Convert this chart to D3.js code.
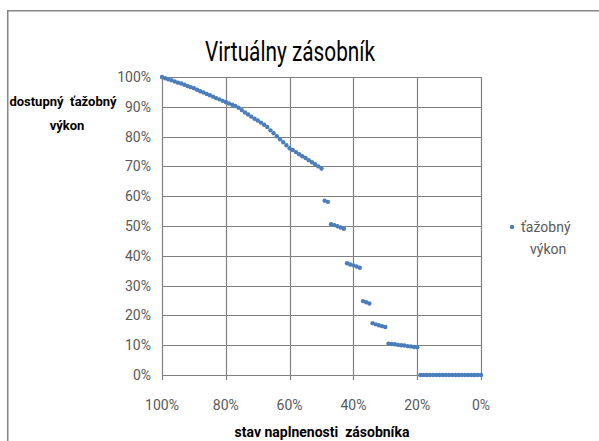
<!DOCTYPE html>
<html>
<head>
<meta charset="utf-8">
<script src="https://cdn.jsdelivr.net/npm/d3@7"></script>
<style>
  html, body { margin: 0; padding: 0; background: #fff; }
  svg { display: block; }
  text { font-family: Roboto, "Open Sans", sans-serif; }
</style>
</head>
<body>
<svg id="chart" width="599" height="441"></svg>
<script>
const title = "Virtuálny zásobník";
const yAxisTitle = ["dostupný  ťažobný", "výkon"];
const xAxisTitle = "stav naplnenosti  zásobníka";
const seriesName = ["ťažobný", "výkon"];

const xTickValues = [100, 80, 60, 40, 20, 0];
const xTickLabels = ["100%", "80%", "60%", "40%", "20%", "0%"];
const yTickValues = [100, 90, 80, 70, 60, 50, 40, 30, 20, 10, 0];
const yTickLabels = ["100%", "90%", "80%", "70%", "60%", "50%", "40%", "30%", "20%", "10%", "0%"];

// stav naplnenosti zásobníka (%)
const naplnenost = [100, 99, 98, 97, 96, 95, 94, 93, 92, 91,
  90, 89, 88, 87, 86, 85, 84, 83, 82, 81,
  80, 79, 78, 77, 76, 75, 74, 73, 72, 71,
  70, 69, 68, 67, 66, 65, 64, 63, 62, 61,
  60, 59, 58, 57, 56, 55, 54, 53, 52, 51,
  50, 49, 48, 47, 46, 45, 44, 43, 42, 41,
  40, 39, 38, 37, 36, 35, 34, 33, 32, 31,
  30, 29, 28, 27, 26, 25, 24, 23, 22, 21,
  20, 19, 18, 17, 16, 15, 14, 13, 12, 11,
  10, 9, 8, 7, 6, 5, 4, 3, 2, 1, 0];

// ťažobný výkon (%)
const vykon = [100, 99.6, 99.2, 98.9, 98.5, 98.1, 97.8, 97.4, 97.0, 96.6,
  96.2, 95.7, 95.2, 94.8, 94.3, 93.9, 93.4, 92.9, 92.5, 92.0,
  91.6, 91.1, 90.7, 90.3, 89.7, 88.9, 88.1, 87.4, 86.7, 86.0,
  85.4, 84.7, 84.0, 83.2, 82.1, 81.1, 80.1, 79.1, 78.1, 77.1,
  76.1, 75.5, 74.8, 74.1, 73.4, 72.8, 72.1, 71.4, 70.7, 70.0,
  69.3, 58.5, 58.1, 50.6, 50.3, 49.9, 49.5, 49.1, 37.5, 37.1,
  36.8, 36.4, 36.0, 24.8, 24.4, 24.0, 17.4, 17.0, 16.7, 16.4,
  16.1, 10.5, 10.4, 10.3, 10.1, 10.0, 9.9, 9.7, 9.6, 9.4,
  9.3, 0, 0, 0, 0, 0, 0, 0, 0, 0,
  0, 0, 0, 0, 0, 0, 0, 0, 0, 0, 0];

const data = naplnenost.map((n, i) => ({ x: n, y: vykon[i] }));

const svg = d3.select("#chart");
const gridColor = "#808080";
const textColor = "#595959";
const markColor = "#4a7ebb";

const x = d3.scaleLinear().domain([100, 0]).range([162, 481]);
const y = d3.scaleLinear().domain([0, 100]).range([375, 77]);

// outer frame (top and left edges visible)
svg.append("rect").attr("x", 7).attr("y", 10).attr("width", 592).attr("height", 1.5).attr("fill", "#868686");
svg.append("rect").attr("x", 7).attr("y", 10).attr("width", 1.5).attr("height", 431).attr("fill", "#868686");

// gridlines as one path built from the scales
const gridPath = d3.path();
yTickValues.forEach(v => {
  const yy = Math.round(y(v)) + 0.5;
  gridPath.moveTo(x(100), yy);
  gridPath.lineTo(x(0) + 1, yy);
});
xTickValues.forEach(v => {
  const xx = Math.round(x(v)) + 0.5;
  gridPath.moveTo(xx, y(100));
  gridPath.lineTo(xx, y(0) + 5);
});
svg.append("path")
  .attr("d", gridPath.toString())
  .attr("fill", "none")
  .attr("stroke", gridColor)
  .attr("stroke-width", 1.2);

// title
svg.append("text")
  .attr("x", 290).attr("y", 61)
  .attr("text-anchor", "middle")
  .attr("font-size", 27)
  .attr("textLength", 170)
  .attr("lengthAdjust", "spacingAndGlyphs")
  .attr("fill", "#000")
  .text(title);

// y tick labels
svg.append("g").selectAll("text").data(yTickValues).join("text")
  .attr("x", 151).attr("y", d => y(d))
  .attr("dy", "0.35em")
  .attr("text-anchor", "end")
  .attr("font-size", 14)
  .attr("fill", textColor)
  .text((d, i) => yTickLabels[i]);

// x tick labels
svg.append("g").selectAll("text").data(xTickValues).join("text")
  .attr("x", d => x(d)).attr("y", 405)
  .attr("dy", "0.35em")
  .attr("text-anchor", "middle")
  .attr("font-size", 14)
  .attr("fill", textColor)
  .text((d, i) => xTickLabels[i]);

// axis titles
svg.append("g").selectAll("text").data(yAxisTitle).join("text")
  .attr("x", (d, i) => i === 0 ? 63 : 67).attr("y", (d, i) => 106 + i * 24)
  .attr("text-anchor", "middle")
  .attr("font-size", 13).attr("font-weight", "bold")
  .attr("fill", "#000")
  .style("white-space", "pre")
  .text(d => d);

svg.append("text")
  .attr("x", 322).attr("y", 437)
  .attr("text-anchor", "middle")
  .attr("font-size", 14).attr("font-weight", "bold")
  .attr("fill", "#000")
  .style("white-space", "pre")
  .text(xAxisTitle);

// data points
svg.append("g").selectAll("circle").data(data).join("circle")
  .attr("cx", d => x(d.x)).attr("cy", d => y(d.y))
  .attr("r", 2.2)
  .attr("fill", markColor);

// legend
svg.append("circle").attr("cx", 512).attr("cy", 227).attr("r", 2.2).attr("fill", markColor);
svg.append("g").selectAll("text").data(seriesName).join("text")
  .attr("x", (d, i) => i === 0 ? 521 : 530).attr("y", (d, i) => 232 + i * 22)
  .attr("font-size", 14)
  .attr("fill", textColor)
  .text(d => d);
</script>
</body>
</html>
